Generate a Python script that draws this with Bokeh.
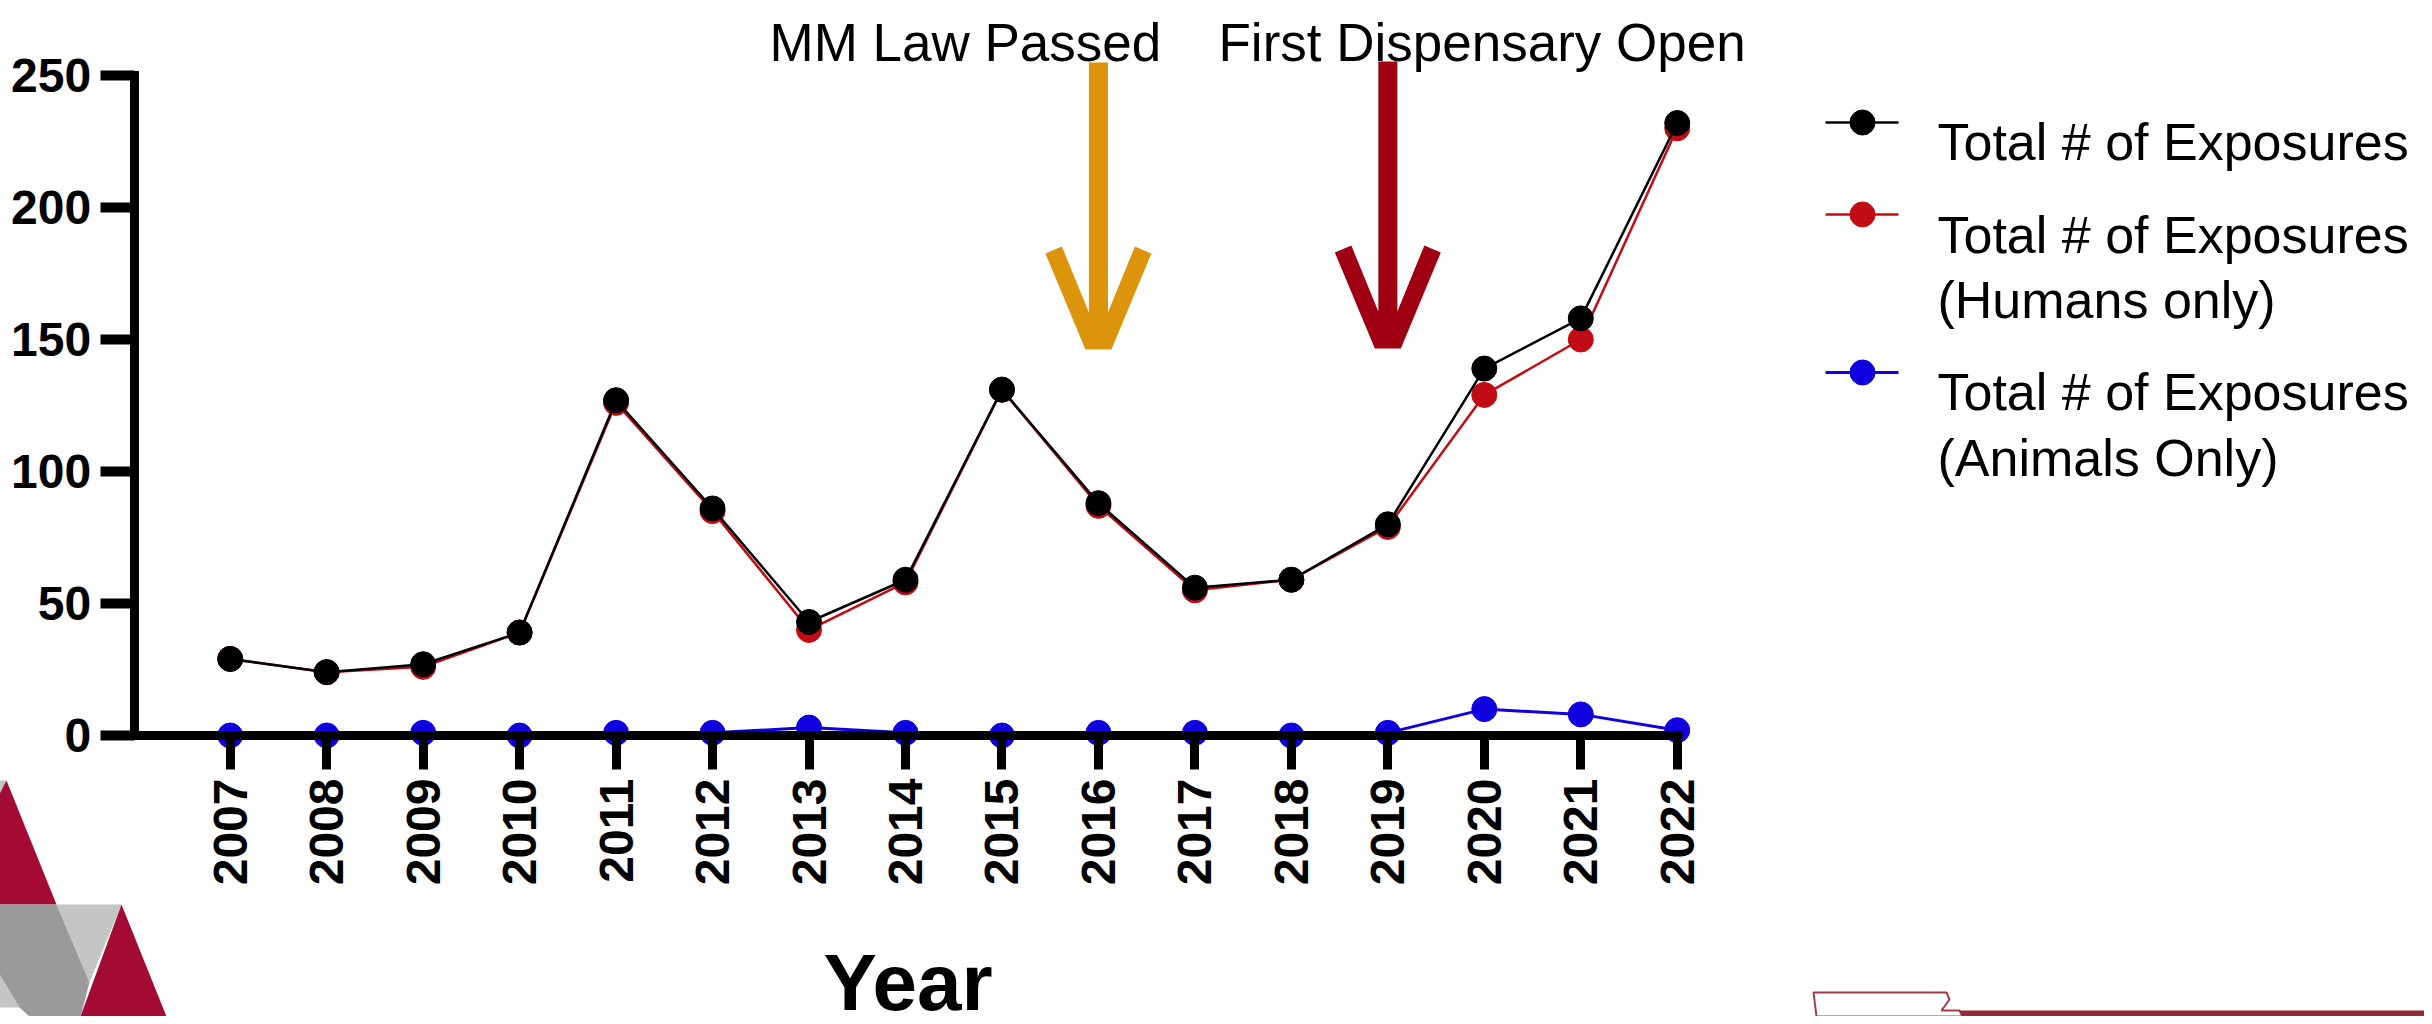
from bokeh.plotting import figure
from bokeh.models import FixedTicker, Label, BasicTickFormatter
from bokeh.embed import file_html
from bokeh.resources import INLINE

years = list(range(2007, 2023))
total = [29, 24, 27, 39, 127, 86, 43, 59, 131, 88, 56, 59, 80, 139, 158, 232]
humans = [29, 24, 26, 39, 126, 85, 40, 58, 131, 87, 55, 59, 79, 129, 150, 230]
animals = [0, 0, 1, 0, 1, 1, 3, 1, 0, 1, 1, 0, 1, 10, 8, 2]
y_ticks = [0, 50, 100, 150, 200, 250]

BLACK, RED, BLUE = "#000000", "#C20C14", "#1000E0"
GOLD, DARK = "#DC940D", "#9E0012"
LOGO_RED, LOGO_DK, LOGO_LT = "#A30B34", "#9B9A9B", "#C6C5C5"
FONT = "Liberation Sans"

# page-pixel geometry of the plot
W, H = 2432, 1024
PX0, PXS = 237.7, 96.47   # page x of 2007, px per year
PY0, PYS = 743.0, 2.64    # page y of 0, px per unit


def dx(px):
    return 2007 + (px - PX0) / PXS


def dy(py):
    return (PY0 - py) / PYS


p = figure(width=W, height=H, output_backend="svg", toolbar_location=None,
           x_range=(dx(0), dx(W)), y_range=(dy(H), dy(0)),
           min_border=0, margin=(-8, 0, 0, -8), outline_line_color=None,
           background_fill_color="white", border_fill_color="white")
p.grid.visible = False

ax = p.xaxis[0]
ax.fixed_location = 0
ax.bounds = (2006.0, 2022.05)
ax.ticker = FixedTicker(ticks=years)
ax.formatter = BasicTickFormatter(use_scientific=False)
ax.minor_tick_line_color = None
ax.axis_line_width = 9
ax.major_tick_line_width = 9
ax.major_tick_out = 34
ax.major_tick_in = 0
ax.major_label_orientation = 1.5708
ax.major_label_standoff = 9
ax.major_label_text_font = FONT
ax.major_label_text_font_style = "bold"
ax.major_label_text_font_size = "48px"
ax.major_label_text_color = BLACK
ax.axis_label = "Year"
ax.axis_label_text_font = FONT
ax.axis_label_text_font_style = "bold"
ax.axis_label_text_font_size = "80px"
ax.axis_label_text_color = BLACK
ax.axis_label_standoff = 50

ay = p.yaxis[0]
ay.fixed_location = dx(141.7)
ay.bounds = (0, 250)
ay.ticker = FixedTicker(ticks=y_ticks)
ay.minor_tick_line_color = None
ay.axis_line_width = 9
ay.axis_line_cap = "square"
ay.major_tick_line_width = 10
ay.major_tick_out = 34
ay.major_tick_in = 0
ay.major_label_standoff = 9
ay.major_label_text_font = FONT
ay.major_label_text_font_style = "bold"
ay.major_label_text_font_size = "48px"
ay.major_label_text_color = BLACK


def poly(pts, color, line=None, lw=0):
    p.patch([dx(a) for a, _ in pts], [dy(b) for _, b in pts], fill_color=color,
            line_color=line or color, line_width=lw if line else 0, line_alpha=1 if line else 0)


# logo, lower left
poly([(0, 788), (14, 788), (0, 815)], LOGO_LT)
poly([(14, 788), (64, 912), (0, 912), (0, 815)], LOGO_RED)
poly([(64, 912), (129, 912), (97, 990)], LOGO_LT)
poly([(0, 970), (27, 1015), (0, 1015)], LOGO_LT)
poly([(0, 912), (64, 912), (97, 990), (88, 1024), (37, 1024), (27, 1015), (0, 970)], LOGO_DK)
poly([(129, 912), (174, 1024), (88, 1024)], LOGO_RED)

# logo, lower right
poly([(1821, 1000), (1954, 1000), (1957, 1007), (1949, 1018), (1967, 1018), (1970, 1024), (1824, 1024)],
     "#FFFFFF", "#A63A48", 2)
poly([(1967, 1018), (2432, 1018), (2432, 1024), (1970, 1024)], "#962A38")


def down_arrow(year, top, tip, color):
    c = PX0 + (year - 2007) * PXS
    pts = [(-9.5, top), (9.5, top), (9.5, tip - 37), (36, tip - 96), (53, tip - 103)]
    right = [(c + a, b) for a, b in [(9.5, top), (9.5, tip - 37), (36.5, tip - 103), (53, tip - 96), (13, tip), ]]
    left = [(c - a, b) for a, b in [(13, tip), (53, tip - 96), (36.5, tip - 103), (9.5, tip - 37), (9.5, top)]]
    poly(right + left, color)


down_arrow(2016, 70, 357, GOLD)
down_arrow(2019, 69, 356, DARK)

# series
series = [(humans, RED, 2.5), (total, BLACK, 2.5), (animals, BLUE, 3)]
for vals, col, lw in series:
    p.line(years, vals, line_color=col, line_width=lw)
    p.scatter(years, vals, size=25, marker="circle", fill_color=col, line_color=col, line_width=1)

# legend
for ly, col, lw in [(130, BLACK, 2.5), (222, RED, 2.5), (380, BLUE, 3)]:
    p.line([dx(1833), dx(1906)], [dy(ly), dy(ly)], line_color=col, line_width=lw)
    p.scatter([dx(1870)], [dy(ly)], size=25, marker="circle", fill_color=col, line_color=col, line_width=1)


def label(text, x, y, size):
    p.add_layout(Label(x=x, y=H - y, x_units="screen", y_units="screen", text=text,
                       text_font=FONT, text_font_size=f"{size}px", text_color=BLACK,
                       text_baseline="alphabetic", text_align="left"))


label("Total # of Exposures", 1945, 149, 52)
label("Total # of Exposures", 1945, 242, 52)
label("(Humans only)", 1945, 307, 52)
label("Total # of Exposures", 1945, 399, 52)
label("(Animals Only)", 1945, 465, 52)
label("MM Law Passed", 777, 50, 53)
label("First Dispensary Open", 1226, 50, 53)

open("out.html", "w").write(file_html(p, INLINE))
